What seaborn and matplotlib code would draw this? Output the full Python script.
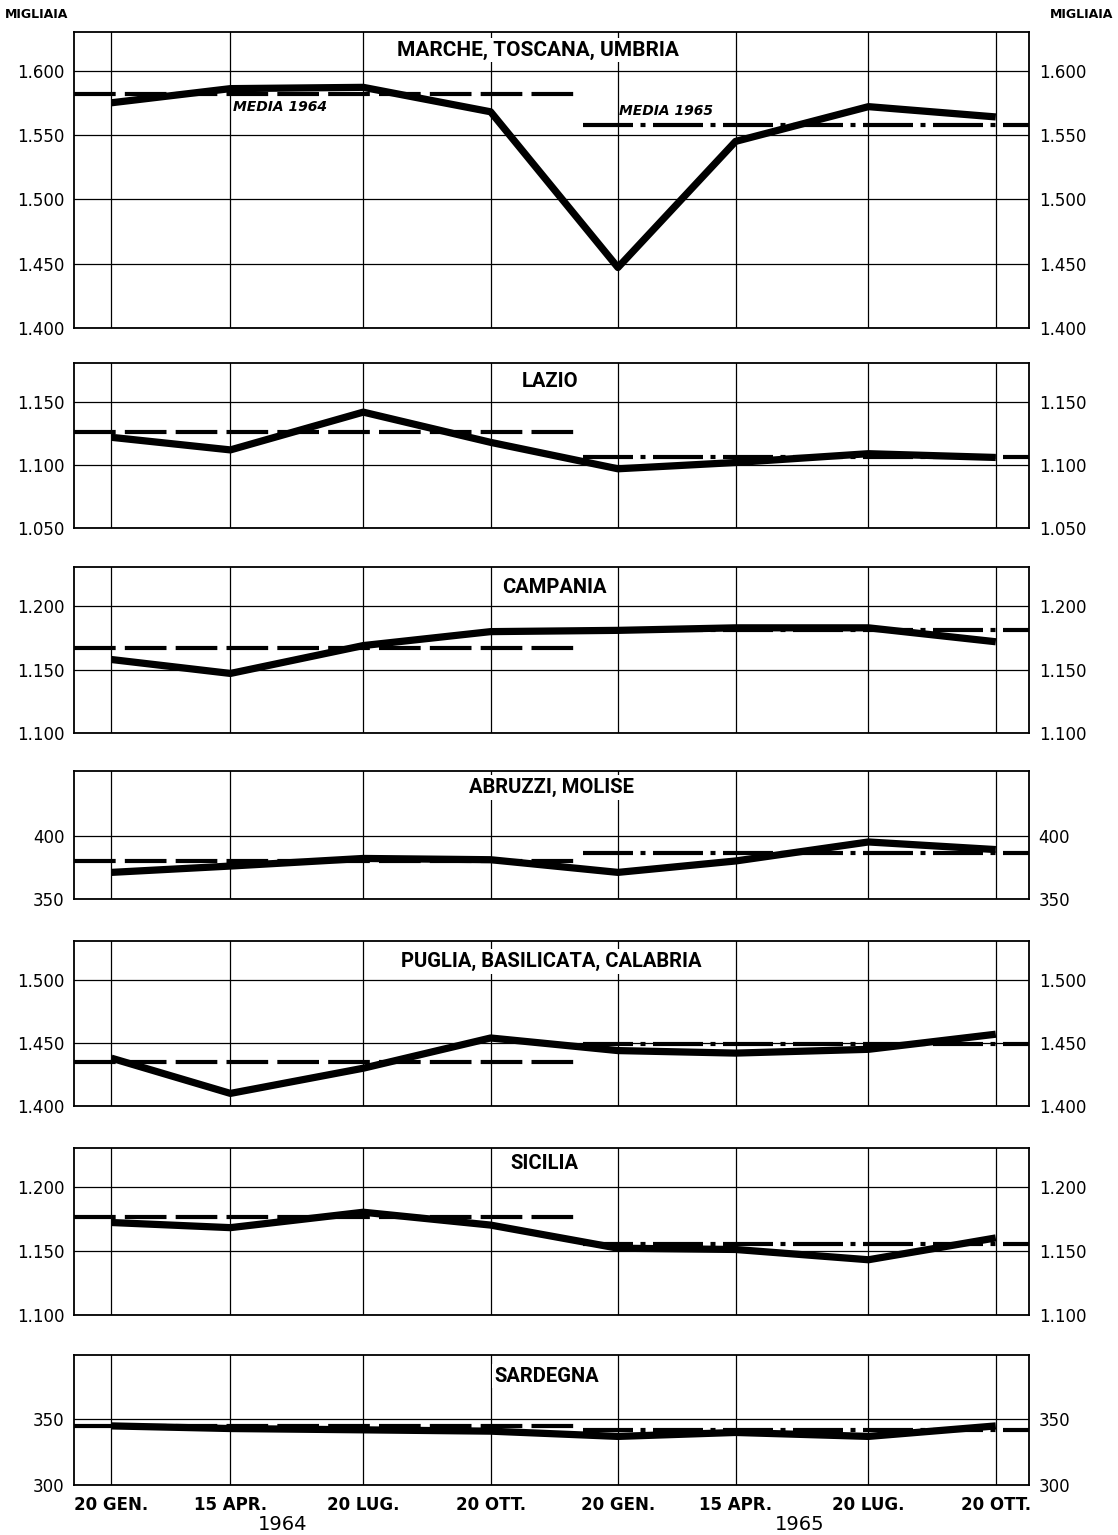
import numpy as np
import pandas as pd
import matplotlib
matplotlib.use("Agg")
import matplotlib.pyplot as plt
import seaborn as sns

# --- data (migliaia) ---
dates = pd.to_datetime(["1964-01-20", "1964-04-15", "1964-07-20", "1964-10-20",
                        "1965-01-20", "1965-04-15", "1965-07-20", "1965-10-20"])
tick_labels = ["20 GEN.", "15 APR.", "20 LUG.", "20 OTT."] * 2
years = ["1964", "1965"]

regions = ["MARCHE, TOSCANA, UMBRIA", "LAZIO", "CAMPANIA", "ABRUZZI, MOLISE",
           "PUGLIA, BASILICATA, CALABRIA", "SICILIA", "SARDEGNA"]

marche = [1575, 1586, 1587, 1568, 1447, 1545, 1572, 1564]
lazio = [1122, 1112, 1142, 1118, 1097, 1102, 1109, 1106]
campania = [1158, 1147, 1169, 1180, 1181, 1183, 1183, 1172]
abruzzi = [371, 376, 382, 381, 371, 380, 395, 389]
puglia = [1438, 1410, 1430, 1454, 1444, 1442, 1445, 1457]
sicilia = [1172, 1168, 1180, 1170, 1152, 1151, 1143, 1160]
sardegna = [345, 343, 342, 341, 337, 340, 337, 345]
series = [marche, lazio, campania, abruzzi, puglia, sicilia, sardegna]

media_1964 = [1582, 1126, 1167, 380, 1435, 1176, 345]
media_1965 = [1558, 1106, 1181, 386, 1449, 1155, 342]
span_1964 = pd.to_datetime(["1963-12-24", "1964-12-24"])
span_1965 = pd.to_datetime(["1964-12-26", "1965-11-13"])

y_ranges = [(1400, 1630), (1050, 1181), (1100, 1231), (350, 451),
            (1400, 1531), (1100, 1230), (300, 399)]

# --- layout (pixels of the 1118x1535 page) ---
W, H = 1118, 1535
left_px, right_px = 74, 1029
panels_px = [(32, 328), (363, 528), (567, 733), (771, 899),
             (941, 1106), (1148, 1315), (1355, 1485)]
title_x = [0.486, 0.498, 0.503, 0.50, 0.50, 0.493, 0.495]
title_y = [1616, 1166, 1215, 438, 1515, 1218, 383]
xlim = pd.to_datetime(["1963-12-24", "1965-11-13"])

sns.set_theme(style="white")
plt.rcParams['font.family'] = ['DejaVu Sans']
plt.rcParams['text.color'] = 'black'
plt.rcParams['xtick.color'] = 'black'
plt.rcParams['ytick.color'] = 'black'
title_font = ['Roboto', 'DejaVu Sans']


def fmt(v):
    return f"{v:,.0f}".replace(",", ".")


fig = plt.figure(figsize=(W / 100, H / 100), dpi=100)
fig.patch.set_facecolor("white")

for i, (name, vals) in enumerate(zip(regions, series)):
    top, bot = panels_px[i]
    ax = fig.add_axes([left_px / W, 1 - bot / H, (right_px - left_px) / W, (bot - top) / H])
    ax.set_facecolor("white")
    lo, hi = y_ranges[i]

    df = pd.DataFrame({"data": dates, "valore": vals})
    ax.hlines(media_1964[i], span_1964[0], span_1964[1], colors="black", lw=3.0,
              linestyles=[(0, (10, 2.2))], zorder=3)
    ax.hlines(media_1965[i], span_1965[0], span_1965[1], colors="black", lw=3.0,
              linestyles=[(0, (12, 1.8, 1.2, 1.8))], zorder=3)
    sns.lineplot(data=df, x="data", y="valore", ax=ax, color="black", lw=5.2,
                 solid_capstyle="butt", zorder=4)

    ax.set_xlim(xlim[0], xlim[1])
    ax.set_ylim(lo, hi)
    yt = np.arange(np.ceil(lo / 50) * 50, hi + 1, 50)
    yt = yt[yt < hi - 10]
    ax.set_yticks(yt)
    ax.set_yticklabels([fmt(v) for v in yt])
    ax.set_xticks(dates)
    ax.grid(True, color="black", lw=0.9)
    ax.set_axisbelow(True)
    ax.tick_params(axis="y", length=0, labelleft=True, labelright=True,
                   labelsize=12, pad=7, labelcolor="black")
    ax.tick_params(axis="x", length=0)
    if i == len(regions) - 1:
        ax.set_xticklabels(tick_labels, fontsize=12, fontweight="bold")
        ax.tick_params(axis="x", pad=8, labelcolor="black")
    else:
        ax.set_xticklabels([])
    ax.set_xlabel("")
    ax.set_ylabel("")
    for s in ax.spines.values():
        s.set_visible(True)
        s.set_color("black")
        s.set_linewidth(1.3)
        s.set_zorder(6)

    ax.text(title_x[i], title_y[i], name, transform=ax.get_yaxis_transform(),
            ha="center", va="center", fontsize=15 if i == 0 else 14.5,
            fontweight="bold", family=title_font, color="black",
            bbox=dict(facecolor="white", edgecolor="none", pad=2), zorder=5)

    if i == 0:
        ax.text(0.216, 1572, "MEDIA 1964", transform=ax.get_yaxis_transform(),
                ha="center", va="center", fontsize=10, fontstyle="italic",
                fontweight="bold", zorder=5)
        ax.text(0.62, 1569, "MEDIA 1965", transform=ax.get_yaxis_transform(),
                ha="center", va="center", fontsize=10, fontstyle="italic",
                fontweight="bold", zorder=5)

fig.text(5 / W, 1 - 14 / H, "MIGLIAIA", ha="left", va="center", fontsize=9, fontweight="bold")
fig.text(1113 / W, 1 - 14 / H, "MIGLIAIA", ha="right", va="center", fontsize=9, fontweight="bold")
fig.text(283 / W, 1 - 1524 / H, years[0], ha="center", va="center", fontsize=14)
fig.text(800 / W, 1 - 1524 / H, years[1], ha="center", va="center", fontsize=14)

fig.savefig("out.png", dpi=100, facecolor="white")
